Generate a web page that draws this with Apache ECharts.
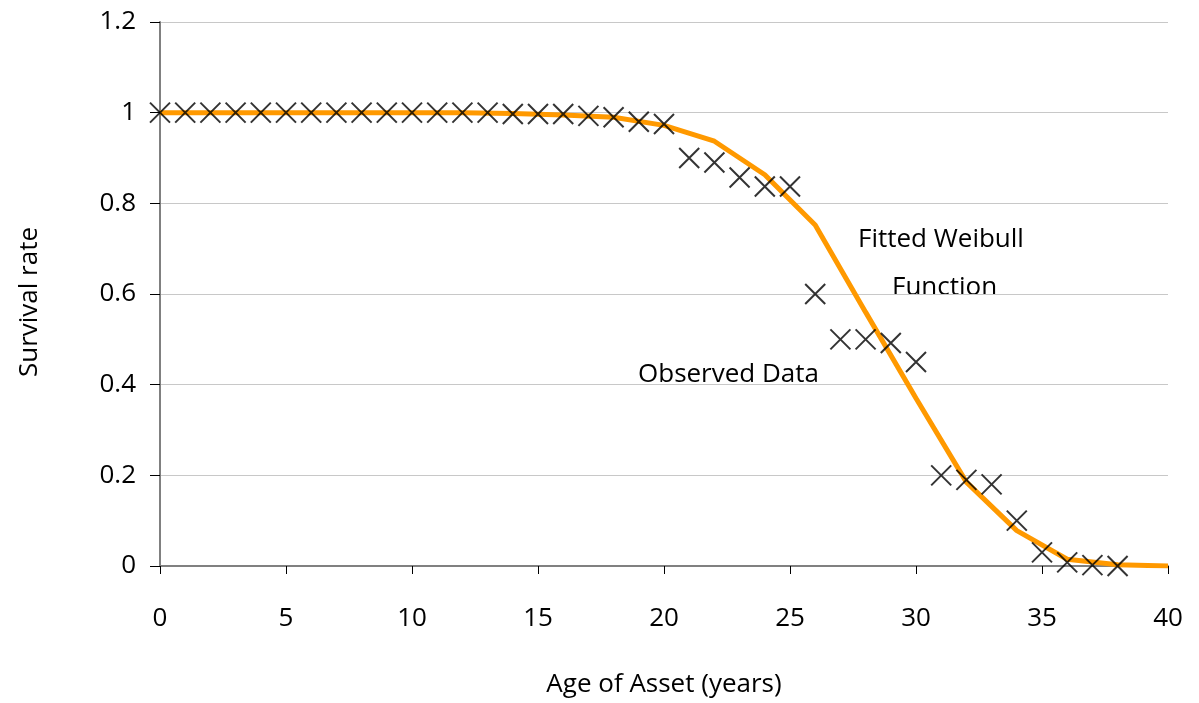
<!DOCTYPE html>
<html>
<head>
<meta charset="utf-8">
<script src="https://cdn.jsdelivr.net/npm/echarts@6/dist/echarts.min.js"></script>
<style>
  html, body { margin: 0; padding: 0; background: #fff; }
  #chart { width: 1199px; height: 703px; }
</style>
</head>
<body>
<div id="chart"></div>
<script>
// observed survival per year of age
var obsAge = [0,1,2,3,4,5,6,7,8,9,10,11,12,13,14,15,16,17,18,19,20,21,22,23,24,25,26,27,28,29,30,31,32,33,34,35,36,37,38];
var obsRate = [1,1,1,1,1,1,1,1,1,1,1,1,1,1,0.997,0.997,0.997,0.993,0.99,0.98,0.975,0.9,0.89,0.857,0.837,0.837,0.6,0.5,0.5,0.492,0.45,0.2,0.19,0.18,0.1,0.03,0.008,0.002,0];

// fitted curve at every 2 years
var fitAge = [0,2,4,6,8,10,12,14,16,18,20,22,24,26,28,30,32,34,36,38,40];
var fitRate = [1,1,1,1,1,1,1,0.998,0.995,0.99,0.972,0.937,0.863,0.752,0.56,0.37,0.185,0.078,0.015,0.003,0];

var xTicks = [0,5,10,15,20,25,30,35,40];
var yTicks = [0,0.2,0.4,0.6,0.8,1,1.2];

var font = '"Open Sans", Lato, sans-serif';
var fs = 26;

var chart = echarts.init(document.getElementById('chart'));

var option = {
  backgroundColor: '#fff',
  animation: false,
  textStyle: { fontFamily: font },
  grid: { left: 160, right: 31, top: 22, bottom: 137 },
  xAxis: {
    type: 'value',
    min: xTicks[0],
    max: xTicks[xTicks.length - 1],
    interval: 5,
    name: 'Age of Asset (years)',
    nameLocation: 'middle',
    nameGap: 106,
    nameTextStyle: { fontSize: fs, color: '#000', fontFamily: font },
    axisLine: { lineStyle: { color: '#808080', width: 2 } },
    axisTick: { show: true, length: 8, lineStyle: { color: '#000', width: 1 } },
    axisLabel: { fontSize: fs, color: '#000', margin: 40, fontFamily: font },
    splitLine: { show: false }
  },
  yAxis: {
    type: 'value',
    min: yTicks[0],
    max: yTicks[yTicks.length - 1],
    interval: 0.2,
    name: 'Survival rate',
    nameLocation: 'middle',
    nameGap: 117,
    nameRotate: 90,
    nameTextStyle: { fontSize: fs, color: '#000', fontFamily: font, padding: [0, 16, 0, 0] },
    axisLine: { show: true, lineStyle: { color: '#808080', width: 2 } },
    axisTick: { show: true, inside: false, length: 10, lineStyle: { color: '#000', width: 1 } },
    axisLabel: { fontSize: fs, color: '#000', margin: 24, fontFamily: font },
    splitLine: { show: true, lineStyle: { color: '#c8c8c8', width: 1 } }
  },
  series: [
    {
      name: 'Fitted Weibull Function',
      type: 'line',
      data: fitAge.map(function (a, i) { return [a, fitRate[i]]; }),
      showSymbol: false,
      symbol: 'none',
      lineStyle: { color: '#ff9900', width: 5 },
      z: 2
    },
    {
      name: 'Observed Data',
      type: 'scatter',
      data: obsAge.map(function (a, i) { return [a, obsRate[i]]; }),
      symbol: 'path://M0,0L10,10M10,0L0,10',
      symbolSize: 20,
      itemStyle: { color: 'rgba(0,0,0,0)', borderColor: '#000', borderWidth: 2 },
      z: 3
    }
  ],
  graphic: [
    { type: 'text', x: 858, y: 240, style: { text: 'Fitted Weibull', font: fs + 'px ' + font, fill: '#000', verticalAlign: 'middle' } },
    { type: 'text', x: 892, y: 288, style: { text: 'Function', font: fs + 'px ' + font, fill: '#000', verticalAlign: 'middle' } },
    { type: 'text', x: 638, y: 375, style: { text: 'Observed Data', font: fs + 'px ' + font, fill: '#000', verticalAlign: 'middle' } }
  ]
};

chart.setOption(option);
</script>
</body>
</html>
